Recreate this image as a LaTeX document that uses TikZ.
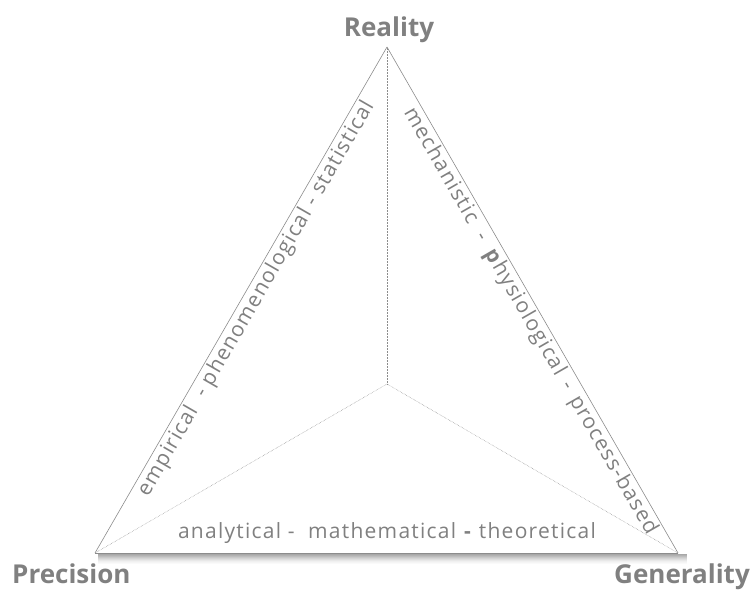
\documentclass[tikz,border=0pt]{standalone}
\usepackage{fontspec}
\setmainfont{Open Sans}
\newfontfamily\labelfont[LetterSpace=6]{Open Sans}
\definecolor{labelgray}{HTML}{808080}
\definecolor{edgegray}{HTML}{8C8C8C}
\begin{document}
\begin{tikzpicture}[x=1pt,y=-1pt,
  corner/.style={font=\fontsize{26}{30}\selectfont\bfseries, text=labelgray, inner sep=0pt},
  sidelabel/.style={font=\labelfont\fontsize{21}{25}\selectfont, text=labelgray, sloped, below, inner sep=2pt},
  edge/.style={draw=edgegray, line width=0.6pt},
  spoke/.style={draw=edgegray, line width=0.5pt, densely dotted}]
\useasboundingbox (0,0) rectangle (751,592);
% corners of the triangle
\coordinate (top) at (387,47);
\coordinate (left) at (95,553);
\coordinate (right) at (678,553);
\coordinate (mid) at (387,384);
% shadow under the base
\foreach \i/\o in {1/0.34,2/0.30,3/0.26,4/0.21,5/0.17,6/0.13,7/0.09,8/0.06,9/0.04,10/0.02}
  \draw[black, opacity=\o, line width=1pt] ([xshift=3pt, yshift=-\i pt]left) -- ([xshift=9pt, yshift=-\i pt]right);
\fill[white] (left) -- (top) -- (right) -- cycle;
% spokes from the centre
\draw[spoke] (mid) -- (top);
\draw[spoke] (mid) -- (left);
\draw[spoke] (mid) -- (right);
% edges with their labels
\draw[edge] (left) -- node[sidelabel, pos=0.515] {empirical \ -\  phenomenological - statistical} (top);
\draw[edge] (top) -- node[sidelabel, pos=0.53] {mechanistic \ - \ \textbf{p}hysiological \,-\, process-based} (right);
\draw[edge] (left) -- (right);
\node[font=\labelfont\fontsize{21}{25}\selectfont, text=labelgray, anchor=base] (base) at (387,538)
  {analytical - \ mathematical \textbf{-} theoretical};
% corner names
\node[corner, anchor=base] (reality) at (389,36) {Reality};
\node[corner, anchor=base west] (precision) at (12,583) {Precision};
\node[corner, anchor=base east] (generality) at (750,583) {Generality};
\end{tikzpicture}
\end{document}
